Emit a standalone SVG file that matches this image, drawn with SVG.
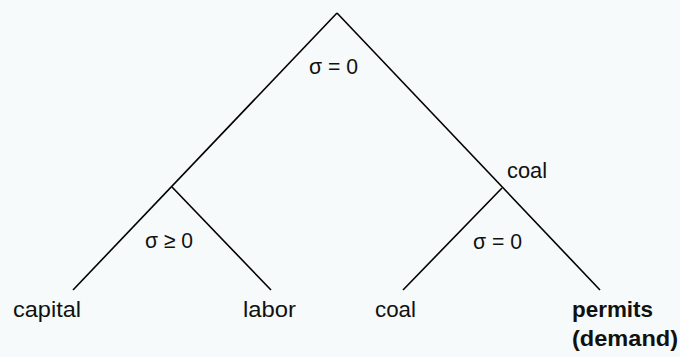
<svg xmlns="http://www.w3.org/2000/svg" width="680" height="357" viewBox="0 0 680 357">
<style>
.bg{fill:#f6fafa}
.edge{stroke:#000;stroke-width:1.6;fill:none;stroke-linecap:butt}
text{font-family:"Liberation Sans",Arial,sans-serif;font-size:22px;fill:#111}
.b{font-weight:bold}
</style>
<rect class="bg" x="0" y="0" width="680" height="357"/>
<g id="connectors">
<line class="edge" x1="337" y1="13" x2="73" y2="290"/>
<line class="edge" x1="337" y1="13" x2="600" y2="290"/>
<line class="edge" x1="172" y1="187" x2="271" y2="290"/>
<line class="edge" x1="502" y1="188" x2="403" y2="290"/>
</g>
<g id="root">
<text x="309" y="74" textLength="49" lengthAdjust="spacingAndGlyphs">σ = 0</text>
</g>
<g id="node-capital-labor">
<text x="145" y="248" textLength="48" lengthAdjust="spacingAndGlyphs">σ ≥ 0</text>
</g>
<g id="node-coal">
<text x="507" y="178" textLength="40" lengthAdjust="spacingAndGlyphs">coal</text>
<text x="473" y="249" textLength="49" lengthAdjust="spacingAndGlyphs">σ = 0</text>
</g>
<g id="leaf-capital">
<text x="13" y="317" textLength="68" lengthAdjust="spacingAndGlyphs">capital</text>
</g>
<g id="leaf-labor">
<text x="243" y="317" textLength="53" lengthAdjust="spacingAndGlyphs">labor</text>
</g>
<g id="leaf-coal">
<text x="375" y="317" textLength="41" lengthAdjust="spacingAndGlyphs">coal</text>
</g>
<g id="leaf-permits">
<text class="b" x="572" y="317" textLength="81" lengthAdjust="spacingAndGlyphs">permits</text>
<text class="b" x="572" y="346" textLength="106" lengthAdjust="spacingAndGlyphs">(demand)</text>
</g>
</svg>
